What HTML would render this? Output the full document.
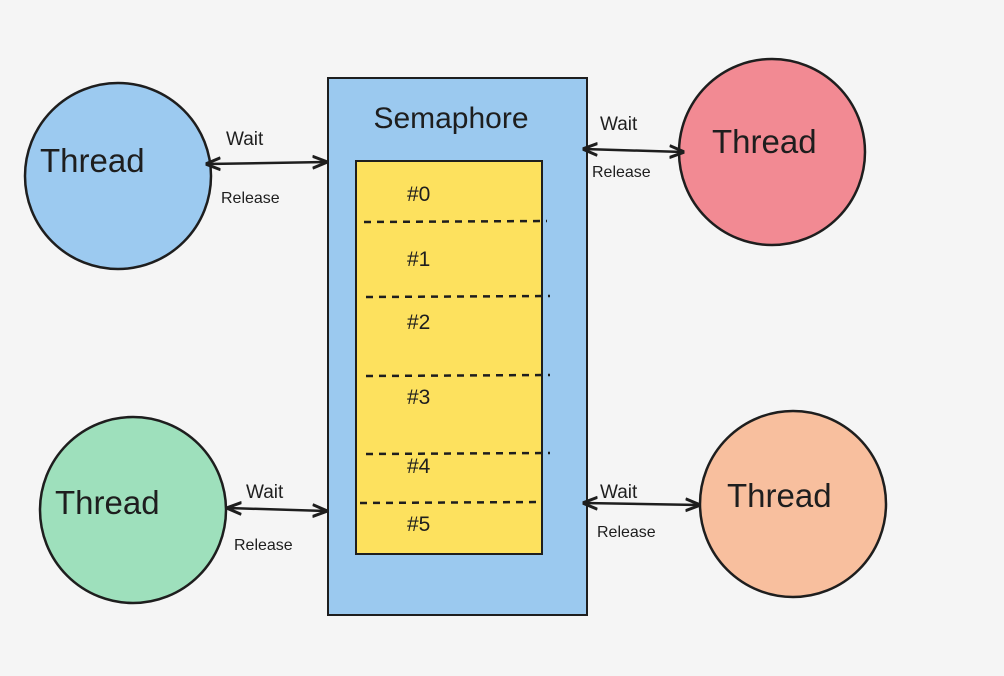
<!DOCTYPE html>
<html><head><meta charset="utf-8"><style>
html,body{margin:0;padding:0;background:#f5f5f5;}
svg{display:block;font-family:"Liberation Sans",sans-serif;}
</style></head><body>
<svg width="1004" height="676" viewBox="0 0 1004 676">
<defs>
<marker id="ah" viewBox="0 0 10 10" refX="9" refY="5" markerWidth="6" markerHeight="6" orient="auto-start-reverse">
<path d="M0,1 L10,5 L0,9" fill="none" stroke="#1e1e1e" stroke-width="2"/>
</marker>
</defs>
<rect width="1004" height="676" fill="#f5f5f5"/>
<g>
<rect x="328" y="78" width="259" height="537" fill="#9bc9ef" stroke="#1e1e1e" stroke-width="2"/>
<text x="451" y="128" font-size="30" text-anchor="middle" fill="#1e1e1e">Semaphore</text>
</g>
<g>
<rect x="356" y="161" width="186" height="393" fill="#fde15e" stroke="#1e1e1e" stroke-width="2"/>
<g stroke="#1e1e1e" stroke-width="2.5" stroke-dasharray="7,6">
<line x1="364" y1="222" x2="547" y2="221"/>
<line x1="366" y1="297" x2="550" y2="296"/>
<line x1="366" y1="376" x2="550" y2="375"/>
<line x1="366" y1="454" x2="550" y2="453"/>
<line x1="360" y1="503" x2="542" y2="502"/>
</g>
<g font-size="21" fill="#1e1e1e">
<text x="407" y="201">#0</text>
<text x="407" y="266">#1</text>
<text x="407" y="329">#2</text>
<text x="407" y="404">#3</text>
<text x="407" y="473">#4</text>
<text x="407" y="531">#5</text>
</g>
</g>
<g stroke="#1e1e1e" stroke-width="2.5">
<circle cx="118" cy="176" r="93" fill="#9ccaf0"/>
<circle cx="772" cy="152" r="93" fill="#f28a93"/>
<circle cx="133" cy="510" r="93" fill="#9ee0bc"/>
<circle cx="793" cy="504" r="93" fill="#f8bf9e"/>
</g>
<g font-size="33" fill="#1e1e1e">
<text x="40" y="172">Thread</text>
<text x="712" y="153">Thread</text>
<text x="55" y="514">Thread</text>
<text x="727" y="507">Thread</text>
</g>
<g stroke="#1e1e1e" stroke-width="2.5" fill="none">
<line x1="207" y1="164" x2="326" y2="162" marker-start="url(#ah)" marker-end="url(#ah)"/>
<line x1="584" y1="149" x2="683" y2="152" marker-start="url(#ah)" marker-end="url(#ah)"/>
<line x1="228" y1="508" x2="326" y2="511" marker-start="url(#ah)" marker-end="url(#ah)"/>
<line x1="584" y1="503" x2="699" y2="505" marker-start="url(#ah)" marker-end="url(#ah)"/>
</g>
<g fill="#1e1e1e">
<text x="226" y="145" font-size="19">Wait</text>
<text x="221" y="203" font-size="16">Release</text>
<text x="600" y="130" font-size="19">Wait</text>
<text x="592" y="177" font-size="16">Release</text>
<text x="246" y="498" font-size="19">Wait</text>
<text x="234" y="550" font-size="16">Release</text>
<text x="600" y="498" font-size="19">Wait</text>
<text x="597" y="537" font-size="16">Release</text>
</g>
</svg>
</body></html>
